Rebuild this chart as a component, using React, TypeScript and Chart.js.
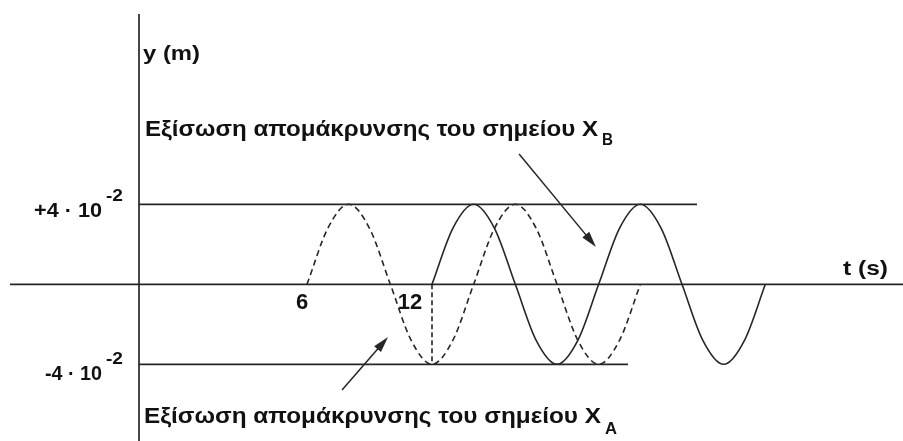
import { useEffect, useRef } from "react";
import { Chart, registerables } from "chart.js";

Chart.register(...registerables);

// Displacement of point X_A (dashed curve): time in s, displacement in 10^-2 m
const timeA = [6, 7, 8, 9, 10, 11, 12, 13, 14, 15, 16, 17, 18, 19, 20, 21, 22];
const displacementA = [0, 2.8, 4, 2.8, 0, -2.8, -4, -2.8, 0, 2.8, 4, 2.8, 0, -2.8, -4, -2.8, 0];

// Displacement of point X_B (solid curve)
const timeB = [12, 13, 14, 15, 16, 17, 18, 19, 20, 21, 22, 23, 24, 25, 26, 27, 28];
const displacementB = [0, 2.8, 4, 2.8, 0, -2.8, -4, -2.8, 0, 2.8, 4, 2.8, 0, -2.8, -4, -2.8, 0];

// Amplitude guide levels (10^-2 m) and the time where each guide ends (s)
const amplitudeLevels = [4, -4];
const amplitudeLevelEnds = [24.72, 21.41];
const amplitudeLabels = ["+4 · 10", "-4 · 10"];
const amplitudeExponent = "-2";

// Time ticks on the t axis
const tickTimes = [6, 12];
const tickLabels = ["6", "12"];

// Moment when X_B starts oscillating (dashed drop line)
const startB = 12;

// Visible window of the drawing
const T_MIN = -8.736;
const T_MAX = 34.608;
const Y_MIN = -7.835;
const Y_MAX = 14.215;
const AXIS_T = -2.064; // time at which the vertical axis stands
const T_AXIS_START = -8.256;
const Y_AXIS_TOP = 13.515;

const INK = "#262626";
const FONT = '"Liberation Sans", Arial, Helvetica, sans-serif';

type Pt = { x: number; y: number };

function toPoints(ts: number[], ys: number[]): Pt[] {
  return ts.map((t, i) => ({ x: t, y: ys[i] }));
}

function drawText(
  ctx: CanvasRenderingContext2D,
  text: string,
  x: number,
  baseline: number,
  size: number,
  width?: number
) {
  ctx.save();
  ctx.font = `bold ${size}px ${FONT}`;
  const measured = ctx.measureText(text).width;
  const sx = width ? width / measured : 1;
  ctx.translate(x, baseline);
  ctx.scale(sx, 1);
  ctx.textAlign = "left";
  ctx.textBaseline = "alphabetic";
  ctx.fillStyle = "#111";
  ctx.fillText(text, 0, 0);
  ctx.restore();
}

function drawArrow(ctx: CanvasRenderingContext2D, x1: number, y1: number, x2: number, y2: number) {
  const ang = Math.atan2(y2 - y1, x2 - x1);
  const headLen = 16;
  const headHalf = 4.5;
  ctx.save();
  ctx.strokeStyle = INK;
  ctx.fillStyle = INK;
  ctx.lineWidth = 1.5;
  ctx.beginPath();
  ctx.moveTo(x1, y1);
  ctx.lineTo(x2 - Math.cos(ang) * headLen * 0.8, y2 - Math.sin(ang) * headLen * 0.8);
  ctx.stroke();
  ctx.beginPath();
  ctx.moveTo(x2, y2);
  ctx.lineTo(
    x2 - Math.cos(ang) * headLen - Math.sin(ang) * headHalf,
    y2 - Math.sin(ang) * headLen + Math.cos(ang) * headHalf
  );
  ctx.lineTo(
    x2 - Math.cos(ang) * headLen + Math.sin(ang) * headHalf,
    y2 - Math.sin(ang) * headLen - Math.cos(ang) * headHalf
  );
  ctx.closePath();
  ctx.fill();
  ctx.restore();
}

const figurePlugin = {
  id: "figureAnnotations",
  beforeDatasetsDraw(chart: any) {
    const { ctx } = chart;
    const xs = chart.scales.x;
    const ys = chart.scales.y;
    ctx.save();
    ctx.strokeStyle = INK;
    ctx.lineWidth = 1.7;
    // t axis
    ctx.beginPath();
    ctx.moveTo(xs.getPixelForValue(T_AXIS_START), ys.getPixelForValue(0));
    ctx.lineTo(xs.getPixelForValue(T_MAX), ys.getPixelForValue(0));
    ctx.stroke();
    // y axis
    ctx.beginPath();
    ctx.moveTo(xs.getPixelForValue(AXIS_T), ys.getPixelForValue(Y_AXIS_TOP));
    ctx.lineTo(xs.getPixelForValue(AXIS_T), ys.getPixelForValue(Y_MIN));
    ctx.stroke();
    ctx.restore();
  },
  afterDatasetsDraw(chart: any) {
    const { ctx } = chart;
    const xs = chart.scales.x;
    const ys = chart.scales.y;
    const px = (t: number) => xs.getPixelForValue(t);
    const py = (v: number) => ys.getPixelForValue(v);

    // axis titles
    drawText(ctx, "y (m)", px(AXIS_T) + 4, 60, 21, 57);
    drawText(ctx, "t (s)", 843, py(0) - 9, 21, 45);

    // amplitude labels with exponent
    amplitudeLevels.forEach((lvl, i) => {
      const base = py(lvl) + (lvl > 0 ? 13 : 16);
      const left = lvl > 0 ? 34 : 45;
      const w = lvl > 0 ? 68 : 57;
      drawText(ctx, amplitudeLabels[i], left, base, 20, w);
      drawText(ctx, amplitudeExponent, 106, base - 16, 16, 17);
    });

    // time tick labels
    const tickOffsets = [-5, -22];
    tickTimes.forEach((t, i) => {
      ctx.save();
      ctx.font = `bold 22px ${FONT}`;
      const w = ctx.measureText(tickLabels[i]).width;
      ctx.restore();
      drawText(ctx, tickLabels[i], px(t) + tickOffsets[i] - w / 2, py(0) + 25, 22);
    });

    // captions
    drawText(ctx, "Εξίσωση απομάκρυνσης του σημείου X", 145, 136, 22, 453);
    drawText(ctx, "B", 602, 145, 17, 11);
    drawText(ctx, "Εξίσωση απομάκρυνσης του σημείου X", 144, 423, 22, 457);
    drawText(ctx, "A", 605, 434, 17, 12);

    // pointer arrows
    drawArrow(ctx, px(16.18), py(6.515), px(19.87), py(1.865));
    drawArrow(ctx, px(7.68), py(-5.285), px(9.89), py(-2.635));
  },
};

export default function App() {
  const canvasRef = useRef<HTMLCanvasElement | null>(null);

  useEffect(() => {
    const canvas = canvasRef.current;
    if (!canvas) return;

    const levelSets = amplitudeLevels.map((lvl, i) => ({
      label: `level ${lvl}`,
      data: [
        { x: AXIS_T, y: lvl },
        { x: amplitudeLevelEnds[i], y: lvl },
      ],
      borderColor: INK,
      borderWidth: 1.7,
      pointRadius: 0,
    }));

    const chart = new Chart(canvas, {
      type: "line",
      data: {
        datasets: [
          ...levelSets,
          {
            label: "X_B start",
            data: [
              { x: startB, y: 0 },
              { x: startB, y: -4 },
            ],
            borderColor: INK,
            borderWidth: 1.6,
            borderDash: [5, 3],
            pointRadius: 0,
          },
          {
            label: "X_A",
            data: toPoints(timeA, displacementA),
            borderColor: INK,
            borderWidth: 1.6,
            borderDash: [6, 4],
            cubicInterpolationMode: "monotone",
            pointRadius: 0,
          },
          {
            label: "X_B",
            data: toPoints(timeB, displacementB),
            borderColor: INK,
            borderWidth: 1.6,
            cubicInterpolationMode: "monotone",
            pointRadius: 0,
          },
        ],
      },
      options: {
        responsive: false,
        devicePixelRatio: 1,
        animation: false,
        parsing: false as any,
        layout: { padding: 0 },
        plugins: {
          legend: { display: false },
          tooltip: { enabled: false },
        },
        scales: {
          x: { type: "linear", display: false, min: T_MIN, max: T_MAX },
          y: { type: "linear", display: false, min: Y_MIN, max: Y_MAX },
        },
      },
      plugins: [figurePlugin],
    });

    return () => chart.destroy();
  }, []);

  return (
    <div style={{ position: "absolute", left: 0, top: 0, width: 903, height: 441, background: "#fff" }}>
      <canvas ref={canvasRef} width={903} height={441} />
    </div>
  );
}
